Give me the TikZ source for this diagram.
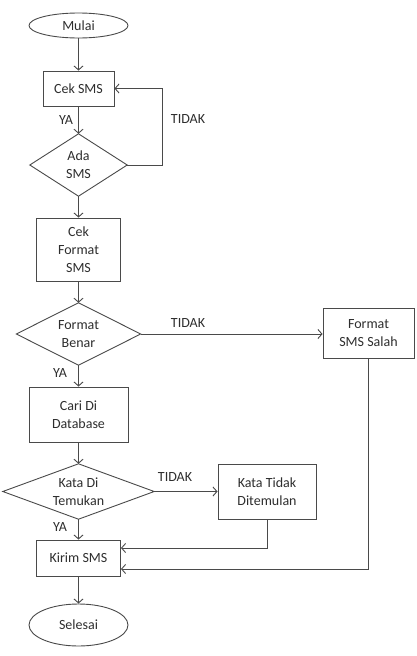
\documentclass[tikz,border=0pt]{standalone}
\usepackage{fontspec}
\setmainfont{Carlito}
\usetikzlibrary{arrows.meta,calc,shapes.geometric}
\definecolor{ln}{HTML}{4A4A4A}
\definecolor{tx}{HTML}{2E2E2E}
\begin{document}
\begin{tikzpicture}[x=1pt,y=-1pt,
  every node/.style={text=tx,font=\fontsize{14}{18}\selectfont,align=center,inner sep=0pt},
  proc/.style={draw=ln,line width=0.9pt,rectangle},
  term/.style={draw=ln,line width=0.9pt,ellipse},
  dbox/.style={rectangle,draw=none},
  lab/.style={font=\fontsize{14}{16}\selectfont},
  arr/.style={draw=ln,line width=0.9pt,-{Straight Barb[length=4pt,width=9pt]}},
  dia/.style={draw=ln,line width=0.9pt}]
\useasboundingbox (0,0) rectangle (416,656);
\fill[white] (0,0) rectangle (416,656);
\node[term,minimum width=99pt,minimum height=25pt] (mulai) at (78.5,25.5) {Mulai};
\node[proc,minimum width=71pt,minimum height=35pt] (cek) at (78.5,88.5) {Cek SMS};
\node[dbox,minimum width=97pt,minimum height=62pt] (ada) at (78.5,165) {Ada\\SMS};
\node[proc,minimum width=84pt,minimum height=63pt] (cekf) at (78.5,249.5) {Cek\\Format\\SMS};
\node[dbox,minimum width=124pt,minimum height=62pt] (fb) at (78.5,334) {Format\\Benar};
\node[proc,minimum width=91pt,minimum height=50pt] (salah) at (368.5,333) {Format\\SMS Salah};
\node[proc,minimum width=99pt,minimum height=55pt] (cari) at (78.5,414.5) {Cari Di\\Database};
\node[dbox,minimum width=151pt,minimum height=55pt] (kata) at (78.5,491.5) {Kata Di\\Temukan};
\node[proc,minimum width=98pt,minimum height=55pt] (tidak) at (267,491.5) {Kata Tidak\\Ditemulan};
\node[proc,minimum width=84pt,minimum height=36pt] (kirim) at (78.5,558) {Kirim SMS};
\node[term,minimum width=99pt,minimum height=42pt] (selesai) at (78.5,625) {Selesai};
\foreach \d in {ada,fb,kata}
  \draw[dia] (\d.north) -- (\d.east) -- (\d.south) -- (\d.west) -- cycle;
\draw[arr] (mulai) -- (cek);
\draw[arr] (cek) -- (ada.north);
\draw[arr] (ada.east) -- ++(35,0) |- (cek.east);
\draw[arr] (ada.south) -- (cekf);
\draw[arr] (cekf) -- (fb.north);
\draw[arr] (fb.south) -- (cari);
\draw[arr] (fb.east) -- (fb.east -| salah.west);
\draw[arr] (cari) -- (kata.north);
\draw[arr] (kata.east) -- (tidak.west);
\draw[arr] (kata.south) -- (kirim);
\draw[arr] (tidak.south) |- ([yshift=10pt]kirim.east);
\draw[arr] (salah.south) |- ([yshift=-11pt]kirim.east);
\draw[arr] (kirim) -- (selesai);
\node[lab] (ya1) at (66,120) {YA};
\node[lab] (td1) at (188,119) {TIDAK};
\node[lab] (td2) at (188,323) {TIDAK};
\node[lab] (ya2) at (60,373) {YA};
\node[lab] (td3) at (175,477) {TIDAK};
\node[lab] (ya3) at (60,527) {YA};
\end{tikzpicture}
\end{document}
